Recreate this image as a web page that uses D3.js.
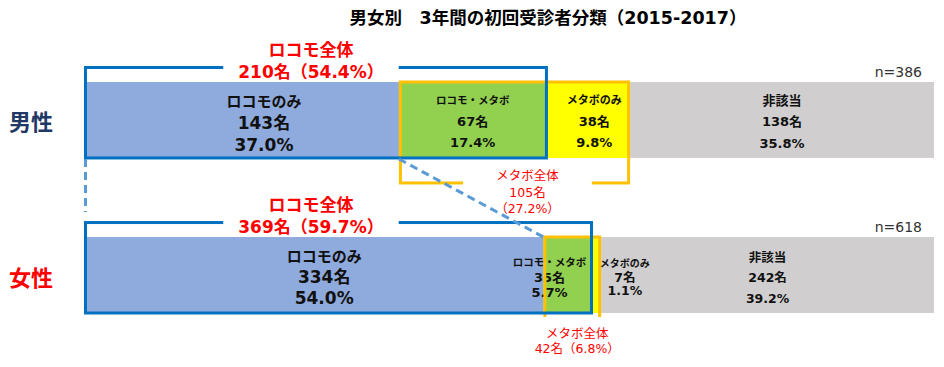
<!DOCTYPE html>
<meta charset="utf-8">
<script src="https://d3js.org/d3.v7.min.js"></script>
<style>
  body { margin: 0; background: #fff; }
  text { font-family: "DejaVu Sans", "Noto Sans CJK JP", sans-serif; }
</style>
<div id="chart"></div>
<script>
// data
var genders = ["男性", "女性"];
var categories = ["ロコモのみ", "ロコモ・メタボ", "メタボのみ", "非該当"];
var maleCounts = [143, 67, 38, 138];
var femaleCounts = [334, 35, 7, 242];
var malePct = [37.0, 17.4, 9.8, 35.8];
var femalePct = [54.0, 5.7, 1.1, 39.2];
var totals = [386, 618];
var locomoTotal = [210, 369];
var locomoPct = [54.4, 59.7];
var metaboTotal = [105, 42];
var metaboPct = [27.2, 6.8];

var counts = [maleCounts, femaleCounts];
var pcts = [malePct, femalePct];
var colors = ["#8faadc", "#92d050", "#ffff00", "#d0cece"];
var genderColors = ["#1f3864", "#ff0000"];

var width = 944, height = 367;

var svg = d3.select("#chart").append("svg")
  .attr("width", width)
  .attr("height", height);

// scales
var x = d3.scaleLinear().domain([0, 1]).range([84, 934]);
var y = d3.scaleBand().domain(genders).range([82, 313]).paddingInner(0.51);
var bw = y.bandwidth();

// label styling per gender / category: name size, value size, line gap, shifts
var labelStyle = [
  [{ns: 15, vs: 17, gap: 21.5, dy: 3.5, dx: 22.5},
   {ns: 10.5, vs: 13, gap: 21, dy: 1, dx: 0},
   {ns: 11, vs: 13, gap: 21, dy: 1, dx: 6},
   {ns: 13, vs: 13, gap: 21.5, dy: 1.5, dx: 0}],
  [{ns: 15, vs: 17, gap: 20.5, dy: 2, dx: 10.5},
   {ns: 10.5, vs: 13, gap: 15, dy: 2, dx: -18},
   {ns: 10, vs: 12.5, gap: 13.5, dy: 1.5, dx: 28.5},
   {ns: 12.5, vs: 12.5, gap: 20.5, dy: 2, dx: 0}]
];

// title
svg.append("text")
  .attr("x", 548)
  .attr("y", 24)
  .attr("text-anchor", "middle")
  .attr("font-size", 17.5)
  .attr("font-weight", "bold")
  .text("男女別　3年間の初回受診者分類（2015-2017）");

function multiline(sel, lines, cx, cy, gap, sizes) {
  var t = sel.append("text")
    .attr("text-anchor", "middle")
    .attr("dominant-baseline", "central");
  lines.forEach(function(l, i) {
    var ts = t.append("tspan")
      .attr("x", cx)
      .attr("y", cy + (i - (lines.length - 1) / 2) * gap)
      .text(l);
    if (sizes) ts.attr("font-size", sizes[i]);
  });
  return t;
}

genders.forEach(function(g, gi) {
  var top = y(g);
  var n = totals[gi];
  var cum = Array.from(d3.cumsum(counts[gi]));
  var starts = [0].concat(cum.slice(0, -1));

  // bar segments
  svg.selectAll(".seg" + gi)
    .data(counts[gi])
    .enter()
    .append("rect")
    .attr("class", "seg" + gi)
    .attr("x", function(d, i) { return x(starts[i] / n); })
    .attr("y", top)
    .attr("width", function(d, i) { return x(cum[i] / n) - x(starts[i] / n); })
    .attr("height", bw)
    .attr("fill", function(d, i) { return colors[i]; });

  // segment labels
  counts[gi].forEach(function(c, i) {
    var st = labelStyle[gi][i];
    var cx = (x(starts[i] / n) + x(cum[i] / n)) / 2 + st.dx;
    multiline(svg, [categories[i], c + "名", pcts[gi][i].toFixed(1) + "%"],
        cx, top + bw / 2 + st.dy, st.gap, [st.ns, st.vs, st.vs])
      .attr("font-weight", "bold")
      .attr("fill", "#111");
  });

  // gender label
  svg.append("text")
    .attr("x", 31)
    .attr("y", top + bw / 2 + 3)
    .attr("text-anchor", "middle")
    .attr("dominant-baseline", "central")
    .attr("font-size", 22)
    .attr("font-weight", "bold")
    .attr("fill", genderColors[gi])
    .text(g);

  // n label
  svg.append("text")
    .attr("x", x(1) - 12)
    .attr("y", top - 5)
    .attr("text-anchor", "end")
    .attr("font-size", 14)
    .attr("fill", "#333")
    .text("n=" + n);

  // metabo bracket (yellow)
  var mx0 = x(counts[gi][0] / n), mx1 = x((counts[gi][0] + metaboTotal[gi]) / n);
  var mBottom = top + bw + (gi === 0 ? 25 : 7);
  svg.append("rect")
    .attr("x", mx0 + 1.5).attr("y", top)
    .attr("width", mx1 - mx0 - 3).attr("height", mBottom - top)
    .attr("fill", "none").attr("stroke", "#ffc000").attr("stroke-width", 3);

  // locomo bracket (blue)
  var lx1 = x(locomoTotal[gi] / n);
  var lTop = top - 14.5;
  svg.append("rect")
    .attr("x", x(0) + 1.5).attr("y", lTop)
    .attr("width", lx1 - x(0) - 1.5).attr("height", top + bw - lTop)
    .attr("fill", "none").attr("stroke", "#0070c0").attr("stroke-width", 3);

  // locomo label with gap in top line
  var lt = multiline(svg, ["ロコモ全体", locomoTotal[gi] + "名（" + locomoPct[gi].toFixed(1) + "%）"], 311, lTop - 7, 22)
    .attr("font-size", 17)
    .attr("font-weight", "bold")
    .attr("fill", "#ff0000");
  var lb = lt.node().getBBox();
  svg.insert("rect", function() { return lt.node(); })
    .attr("x", lb.x - 15).attr("y", lTop - 3)
    .attr("width", lb.width + 30).attr("height", 6)
    .attr("fill", "#fff");

  // metabo label with gap in bottom line
  var mLines = gi === 0
    ? ["メタボ全体", metaboTotal[gi] + "名", "（" + metaboPct[gi].toFixed(1) + "%）"]
    : ["メタボ全体", metaboTotal[gi] + "名（" + metaboPct[gi].toFixed(1) + "%）"];
  var mcx = (mx0 + mx1) / 2 + (gi === 0 ? 13 : 5);
  var mcy = gi === 0 ? mBottom + 9 : mBottom + 20.5;
  var mt = multiline(svg, mLines, mcx, mcy, gi === 0 ? 16.5 : 15.5)
    .attr("font-size", 12.5)
    .attr("fill", "#ff0000");
  var mb = mt.node().getBBox();
  svg.insert("rect", function() { return mt.node(); })
    .attr("x", mb.x - 32).attr("y", mBottom - 3)
    .attr("width", mb.width + 64).attr("height", 6)
    .attr("fill", "#fff");
});

// dashed connectors between the two bars
var mTop = y(genders[0]), fTop = y(genders[1]);
svg.append("line")
  .attr("x1", x(0) + 1.5).attr("y1", mTop + bw + 1)
  .attr("x2", x(0) + 1.5).attr("y2", fTop - 25)
  .attr("stroke", "#5b9bd5").attr("stroke-width", 3).attr("stroke-dasharray", "8,5");
svg.append("line")
  .attr("x1", x(maleCounts[0] / totals[0])).attr("y1", mTop + bw + 1)
  .attr("x2", x(femaleCounts[0] / totals[1])).attr("y2", fTop)
  .attr("stroke", "#5b9bd5").attr("stroke-width", 3).attr("stroke-dasharray", "8,5");
</script>
